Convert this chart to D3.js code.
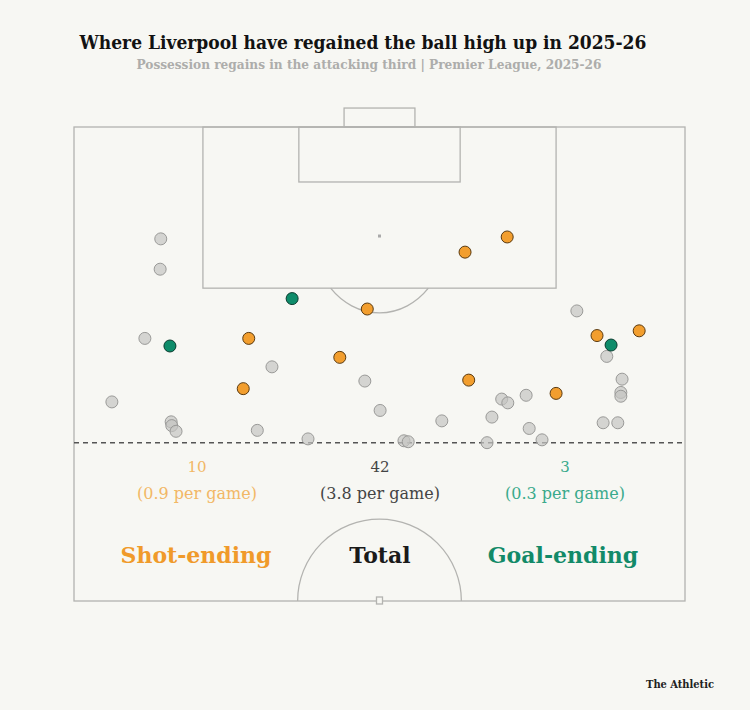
<!DOCTYPE html>
<html>
<head>
<meta charset="utf-8">
<script src="https://cdn.jsdelivr.net/npm/d3@7"></script>
<style>
  body { margin: 0; background: #f7f7f3; }
  svg { display: block; }
  .slab { font-family: "DejaVu Serif", serif; }
  .slabc { font-family: "DejaVu Serif Condensed", "DejaVu Serif", serif; font-stretch: condensed; }
</style>
</head>
<body>
<div id="chart"></div>
<script>
// regains, Opta-style coords: x = across the pitch (0-100), y = up the pitch (50-100)
var regainX = [14.2, 14.1, 11.6, 6.2, 15.9, 16.0, 16.7, 30.0, 32.4, 38.3, 47.6, 50.1, 60.2, 54.0, 54.7,
               67.6, 68.4, 82.3, 87.2, 89.7, 89.5, 89.5, 70.0, 71.0, 74.0, 74.5, 76.6, 86.6, 89.0]
var regainY = [88.2, 85.0, 77.7, 71.0, 68.9, 68.5, 67.9, 68.0, 74.7, 67.1, 73.2, 70.1, 69.0, 66.9, 66.8,
               66.7, 69.4, 80.6, 75.8, 73.4, 72.0, 71.6, 71.3, 70.9, 71.7, 68.2, 67.0, 68.8, 68.8]
var shotX = [28.6, 27.7, 64.0, 48.0, 43.5, 64.6, 70.9, 85.6, 92.5, 78.9]
var shotY = [77.7, 72.4, 86.8, 80.8, 75.7, 73.3, 88.4, 78.0, 78.5, 71.9]
var goalX = [15.7, 35.7, 87.9]
var goalY = [76.9, 81.9, 77.0]

var labels = ["Shot-ending", "Total", "Goal-ending"]
var counts = [10, 42, 3]
var perGame = ["0.9", "3.8", "0.3"]
var attackingThird = 66.7

var width = 750, height = 710

var svg = d3.select("#chart")
  .append("svg")
    .attr("width", width)
    .attr("height", height)

svg.append("rect").attr("width", width).attr("height", height).attr("fill", "#f7f7f3")

var x = d3.scaleLinear().domain([0, 100]).range([74, 685])
var y = d3.scaleLinear().domain([100, 50]).range([127, 601])

var lineCol = "#b3b3b0"
var pitch = svg.append("g")
  .attr("fill", "none")
  .attr("stroke", lineCol)
  .attr("stroke-width", 1.3)

function box(x0, x1, y0, y1) {
  pitch.append("rect")
    .attr("x", x(x0))
    .attr("y", y(y1))
    .attr("width", x(x1) - x(x0))
    .attr("height", y(y0) - y(y1))
}

box(0, 100, 50, 100)        // half pitch
box(21.1, 78.9, 83, 100)    // penalty area
box(36.8, 63.2, 94.2, 100)  // six-yard box
box(44.2, 55.8, 100, 102)   // goal

// penalty arc
var spotY = 88.5
var arcR = 8.1
var dxArc = (x(50) - x(42)) // horizontal half-width at the box edge
pitch.append("path")
  .attr("d", function() {
    var cx = x(50), cy = y(spotY)
    var ry = y(spotY - arcR) - cy
    var yb = y(83) - cy
    var rx = dxArc / Math.sqrt(1 - (yb / ry) * (yb / ry))
    var hw = dxArc
    return "M" + (cx - hw) + "," + (cy + yb) +
           " A" + rx + "," + ry + " 0 0 0 " + (cx + hw) + "," + (cy + yb)
  })

// centre circle (half)
var cR = x(50) - x(36.6)
pitch.append("path")
  .attr("d", "M" + (x(50) - cR) + "," + y(50) + " A" + cR + "," + cR + " 0 0 1 " + (x(50) + cR) + "," + y(50))

// spots
svg.append("rect")
  .attr("x", x(50) - 1.5).attr("y", y(spotY) - 1.5)
  .attr("width", 3).attr("height", 3)
  .attr("fill", "#aaa")
pitch.append("rect")
  .attr("x", x(50) - 3).attr("y", y(50) - 4)
  .attr("width", 6).attr("height", 7)
  .attr("fill", "#f7f7f3")

// attacking third line
svg.append("line")
  .attr("x1", x(0)).attr("x2", x(100))
  .attr("y1", y(attackingThird)).attr("y2", y(attackingThird))
  .attr("stroke", "#555")
  .attr("stroke-width", 1.5)
  .attr("stroke-dasharray", "5,4")

// points
function dots(xs, ys, fill, stroke, op) {
  svg.append("g").selectAll("circle")
    .data(xs)
    .enter().append("circle")
      .attr("cx", function(d) { return x(d) })
      .attr("cy", function(d, i) { return y(ys[i]) })
      .attr("r", 6)
      .attr("fill", fill)
      .attr("fill-opacity", op)
      .attr("stroke", stroke)
      .attr("stroke-width", 1)
}
dots(regainX, regainY, "#c4c4c2", "#9a9a98", 0.7)
dots(shotX, shotY, "#f29e2e", "#5a3a10", 1)
dots(goalX, goalY, "#0e8c6a", "#0a3b2e", 1)

// stat labels
var labelX = [197, 380, 565]
var bigX = [196, 380, 563]
var numCol = ["#f2b766", "#444", "#3aaa8c"]
var bigCol = ["#f09a2a", "#1a1a1a", "#128a68"]

for (var i = 0; i < labels.length; i++) {
  svg.append("text")
    .attr("class", "slab")
    .attr("x", labelX[i]).attr("y", 472)
    .attr("text-anchor", "middle")
    .attr("font-size", 15)
    .attr("fill", numCol[i])
    .text(counts[i])
  svg.append("text")
    .attr("class", "slab")
    .attr("x", labelX[i]).attr("y", 499)
    .attr("text-anchor", "middle")
    .attr("font-size", 16)
    .attr("fill", numCol[i])
    .text("(" + perGame[i] + " per game)")
  svg.append("text")
    .attr("class", "slab")
    .attr("x", bigX[i]).attr("y", 563)
    .attr("text-anchor", "middle")
    .attr("font-size", 22)
    .attr("font-weight", "bold")
    .attr("fill", bigCol[i])
    .text(labels[i])
}

// titles
svg.append("text")
  .attr("class", "slabc")
  .attr("x", 363).attr("y", 49)
  .attr("text-anchor", "middle")
  .attr("font-size", 19)
  .attr("font-weight", "bold")
  .attr("fill", "#121212")
  .text("Where Liverpool have regained the ball high up in 2025-26")

svg.append("text")
  .attr("class", "slabc")
  .attr("x", 369).attr("y", 69)
  .attr("text-anchor", "middle")
  .attr("font-size", 13.5)
  .attr("font-weight", "bold")
  .attr("fill", "#adadab")
  .text("Possession regains in the attacking third | Premier League, 2025-26")

svg.append("text")
  .attr("class", "slabc")
  .attr("x", 680).attr("y", 688)
  .attr("text-anchor", "middle")
  .attr("font-size", 11)
  .attr("font-weight", "bold")
  .attr("fill", "#222")
  .text("The Athletic")
</script>
</body>
</html>
